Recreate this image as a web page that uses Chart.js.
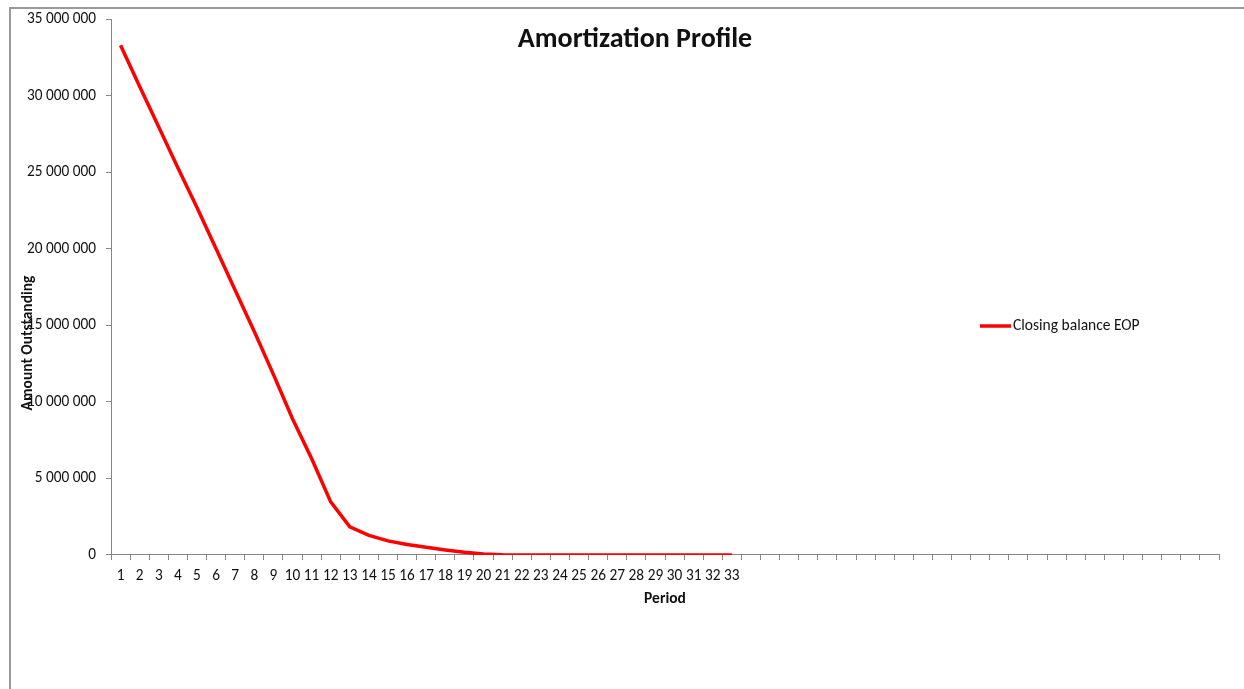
<!DOCTYPE html>
<html>
<head>
<meta charset="utf-8">
<title>Amortization Profile</title>
<script src="https://cdn.jsdelivr.net/npm/chart.js@4.4.1/dist/chart.umd.min.js"></script>
<style>
  html, body { margin: 0; padding: 0; background: #fff; overflow: hidden; }
  #frame {
    position: absolute; left: 9px; top: 7px; width: 1300px; height: 750px;
    border-left: 2px solid #9a9a9a; border-top: 2px solid #9a9a9a;
  }
  #chart { position: absolute; left: 0; top: 0; }
</style>
</head>
<body>
<div id="frame"></div>
<canvas id="chart" width="1244" height="689"></canvas>
<script>
// Closing balance at end of each period
const periods = [1, 2, 3, 4, 5, 6, 7, 8, 9, 10, 11, 12, 13, 14, 15, 16, 17,
                 18, 19, 20, 21, 22, 23, 24, 25, 26, 27, 28, 29, 30, 31, 32, 33];
const closingBalance = [33300000, 30600000, 27950000, 25300000, 22700000, 20000000,
                        17300000, 14600000, 11800000, 8900000, 6300000, 3470000,
                        1840000, 1280000, 920000, 680000, 500000, 330000, 180000,
                        60000, 10000, 0, 0, 0, 0, 0, 0, 0, 0, 0, 0, 0, 0];
// the axis in the source keeps room for 58 periods, only 33 are labelled
const emptySlots = 25;
const yTicks = [0, 5000000, 10000000, 15000000, 20000000, 25000000, 30000000, 35000000];

const chartTitle = 'Amortization Profile';
const seriesName = 'Closing balance EOP';
const xTitle = 'Period';
const yTitle = 'Amount Outstanding';

const FONT = 'Calibri, Carlito, Lato, sans-serif';
const AXIS_GREY = '#868686';
const TEXT = '#111';

const labels = periods.map(String);
for (let i = 0; i < emptySlots; i++) labels.push('');

function spaced(v) {
    return String(v).replace(/\B(?=(\d{3})+(?!\d))/g, ' ');
}

// title, rotated y title and the legend sit where Excel put them
const decorations = {
    id: 'decorations',
    afterDraw(chart) {
        const c = chart.ctx;
        c.save();
        c.fillStyle = TEXT;

        c.font = 'bold 28px ' + FONT;
        c.textAlign = 'center';
        c.textBaseline = 'middle';
        c.fillText(chartTitle, 635, 40);

        c.save();
        c.translate(28, 343);
        c.rotate(-Math.PI / 2);
        c.font = 'bold 15.5px ' + FONT;
        c.fillText(yTitle, 0, 0);
        c.restore();

        const ds = chart.data.datasets[0];
        c.strokeStyle = ds.borderColor;
        c.lineWidth = ds.borderWidth;
        c.beginPath();
        c.moveTo(980, 326);
        c.lineTo(1011, 326);
        c.stroke();
        c.font = '15.5px ' + FONT;
        c.textAlign = 'left';
        c.fillText(ds.label, 1013, 326);
        c.restore();
    }
};

new Chart(document.getElementById('chart'), {
    type: 'line',
    data: {
        labels: labels,
        datasets: [{
            label: seriesName,
            data: closingBalance,
            borderColor: '#ff0000',
            borderWidth: 3.5,
            pointRadius: 0,
            tension: 0,
            fill: false
        }]
    },
    options: {
        responsive: false,
        animation: false,
        layout: { padding: { left: 0, top: 18, right: 25, bottom: 0 } },
        plugins: {
            legend: { display: false },
            title: { display: false },
            tooltip: { enabled: false }
        },
        scales: {
            x: {
                offset: true,
                grid: {
                    offset: true,
                    drawOnChartArea: false,
                    drawTicks: true,
                    tickLength: 5,
                    color: AXIS_GREY
                },
                border: { display: true, color: AXIS_GREY, width: 1 },
                ticks: {
                    autoSkip: false,
                    maxRotation: 0,
                    minRotation: 0,
                    padding: 7,
                    color: TEXT,
                    font: { family: FONT, size: 15.3 }
                },
                title: {
                    display: true,
                    text: xTitle,
                    color: TEXT,
                    font: { family: FONT, size: 15.5, weight: 'bold' },
                    padding: { top: 0, bottom: 81 }
                },
                afterFit(scale) { scale.height = 134; }
            },
            y: {
                min: 0,
                max: 35000000,
                afterBuildTicks(scale) {
                    scale.ticks = yTicks.map(v => ({ value: v }));
                },
                grid: {
                    drawOnChartArea: false,
                    drawTicks: true,
                    tickLength: 5,
                    color: AXIS_GREY
                },
                border: { display: true, color: AXIS_GREY, width: 1 },
                ticks: {
                    padding: 10,
                    color: TEXT,
                    font: { family: FONT, size: 15.3 },
                    callback: v => spaced(v)
                },
                afterFit(scale) { scale.width = 111; }
            }
        }
    },
    plugins: [decorations]
});
</script>
</body>
</html>
